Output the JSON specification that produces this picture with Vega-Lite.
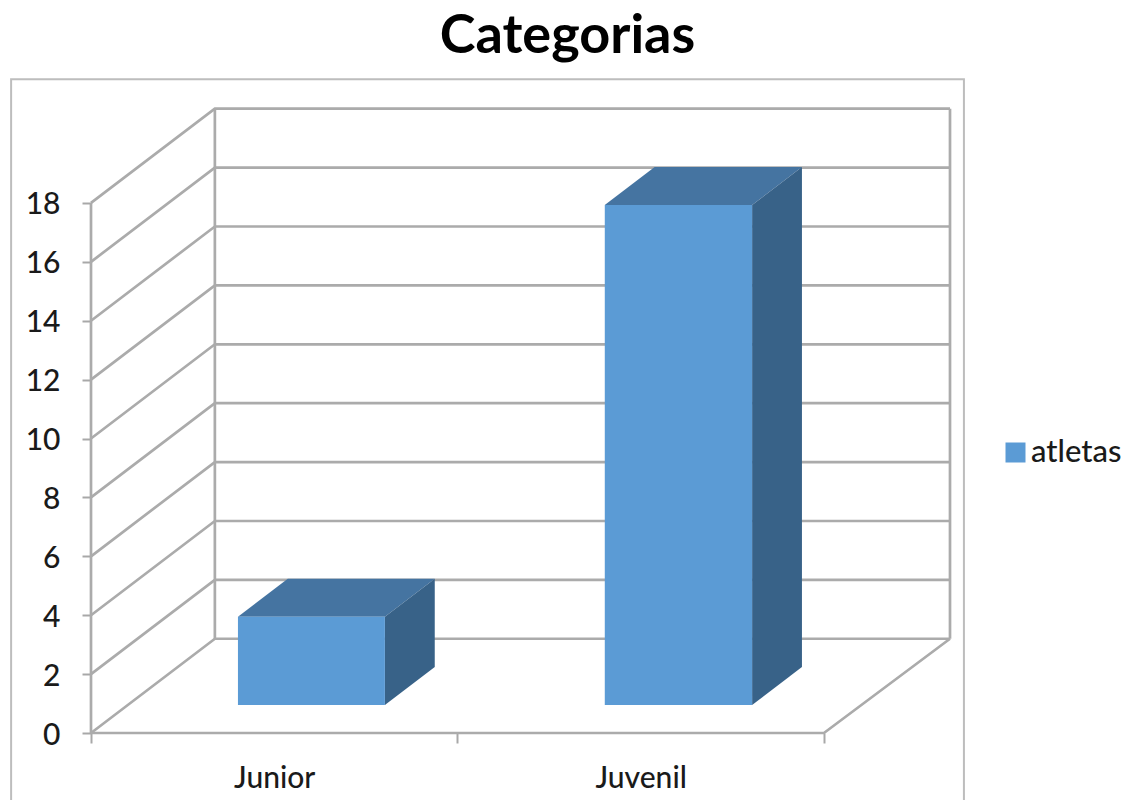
{
"$schema":"https://vega.github.io/schema/vega-lite/v6.json",
"autosize":"none","width":859,"height":624,
"padding":{"left":91,"top":109,"right":191,"bottom":67},
"background":"white",
"config":{"view":{"stroke":null}},
"title":{"text":"Categorias","font":"Lato","fontSize":54,"fontWeight":"bold","color":"#000000","anchor":"middle","dx":47,"offset":11},
"datasets":{
"frame":[{"id":"border","seq":1,"x":-0.218,"y":-2.4},{"id":"border","seq":2,"x":-0.218,"y":22.2},{"id":"border","seq":3,"x":2.382,"y":22.2},{"id":"border","seq":4,"x":2.382,"y":-2.4}],
"wall":[
{"id":"g0","seq":1,"x":0,"y":0},{"id":"g0","seq":2,"x":0.338,"y":3.2},{"id":"g0","seq":3,"x":2.344,"y":3.2},
{"id":"g2","seq":1,"x":0,"y":2},{"id":"g2","seq":2,"x":0.338,"y":5.2},{"id":"g2","seq":3,"x":2.344,"y":5.2},
{"id":"g4","seq":1,"x":0,"y":4},{"id":"g4","seq":2,"x":0.338,"y":7.2},{"id":"g4","seq":3,"x":2.344,"y":7.2},
{"id":"g6","seq":1,"x":0,"y":6},{"id":"g6","seq":2,"x":0.338,"y":9.2},{"id":"g6","seq":3,"x":2.344,"y":9.2},
{"id":"g8","seq":1,"x":0,"y":8},{"id":"g8","seq":2,"x":0.338,"y":11.2},{"id":"g8","seq":3,"x":2.344,"y":11.2},
{"id":"g10","seq":1,"x":0,"y":10},{"id":"g10","seq":2,"x":0.338,"y":13.2},{"id":"g10","seq":3,"x":2.344,"y":13.2},
{"id":"g12","seq":1,"x":0,"y":12},{"id":"g12","seq":2,"x":0.338,"y":15.2},{"id":"g12","seq":3,"x":2.344,"y":15.2},
{"id":"g14","seq":1,"x":0,"y":14},{"id":"g14","seq":2,"x":0.338,"y":17.2},{"id":"g14","seq":3,"x":2.344,"y":17.2},
{"id":"g16","seq":1,"x":0,"y":16},{"id":"g16","seq":2,"x":0.338,"y":19.2},{"id":"g16","seq":3,"x":2.344,"y":19.2},
{"id":"g18","seq":1,"x":0,"y":18},{"id":"g18","seq":2,"x":0.338,"y":21.2},{"id":"g18","seq":3,"x":2.344,"y":21.2},
{"id":"back","seq":1,"x":0.338,"y":3.2},{"id":"back","seq":2,"x":0.338,"y":21.2},
{"id":"right","seq":1,"x":2.344,"y":3.2},{"id":"right","seq":2,"x":2.344,"y":21.2},
{"id":"axisy","seq":1,"x":0,"y":0},{"id":"axisy","seq":2,"x":0,"y":18},
{"id":"floor","seq":1,"x":0,"y":0},{"id":"floor","seq":2,"x":2,"y":0},{"id":"floor","seq":3,"x":2.344,"y":3.2}
],
"top":[
{"cat":"Junior","x":0.401,"y":3.95,"y2":3.95},{"cat":"Junior","x":0.537,"y":3.95,"y2":5.24},{"cat":"Junior","x":0.802,"y":3.95,"y2":5.24},{"cat":"Junior","x":0.938,"y":5.24,"y2":5.24},
{"cat":"Juvenil","x":1.402,"y":17.93,"y2":17.93},{"cat":"Juvenil","x":1.538,"y":17.93,"y2":19.22},{"cat":"Juvenil","x":1.804,"y":17.93,"y2":19.22},{"cat":"Juvenil","x":1.94,"y":19.22,"y2":19.22}
],
"side":[
{"cat":"Junior","x":0.802,"y":0.95,"y2":3.95},{"cat":"Junior","x":0.938,"y":2.24,"y2":5.24},
{"cat":"Juvenil","x":1.804,"y":0.95,"y2":17.93},{"cat":"Juvenil","x":1.94,"y":2.24,"y2":19.22}
],
"front":[
{"cat":"Junior","serie":"atletas","x":0.401,"x2":0.802,"y":0.95,"y2":3.95},
{"cat":"Juvenil","serie":"atletas","x":1.402,"x2":1.804,"y":0.95,"y2":17.93}
]
},
"layer":[
{"data":{"name":"frame"},"mark":{"type":"line","color":"#bdbdbd","strokeWidth":2,"clip":false},
 "encoding":{
  "x":{"field":"x","type":"quantitative","scale":{"domain":[0,2.344],"nice":false,"zero":false},
   "axis":{"title":null,"grid":false,"domain":false,"values":[0,0.5,1,1.5,2],"tickSize":10,"tickColor":"#a8a8a8","tickWidth":2,"tickOpacity":{"condition":{"test":"datum.value==0.5||datum.value==1.5","value":0},"value":1},"labelFont":"Lato","labelFontWeight":500,"labelFontSize":30,"labelColor":"#1a1a1a","labelPadding":20,"labelAngle":0,"labelExpr":"datum.value==0.5?'Junior':(datum.value==1.5?'Juvenil':'')"}},
  "y":{"field":"y","type":"quantitative","scale":{"domain":[0,21.19],"nice":false,"zero":false},
   "axis":{"title":null,"grid":false,"domain":false,"values":[0,2,4,6,8,10,12,14,16,18],"tickSize":9,"tickColor":"#a8a8a8","tickWidth":2,"labelFont":"Lato","labelFontWeight":500,"labelFontSize":30,"labelColor":"#1a1a1a","labelPadding":22,"labelOffset":2}},
  "detail":{"field":"id"},"order":{"field":"seq"}}},
{"data":{"name":"wall"},"mark":{"type":"line","color":"#ababab","strokeWidth":2.7},
 "encoding":{"x":{"field":"x","type":"quantitative"},"y":{"field":"y","type":"quantitative"},"detail":{"field":"id"},"order":{"field":"seq"}}},
{"data":{"name":"top"},"mark":{"type":"area","color":"#4574a1"},
 "encoding":{"x":{"field":"x","type":"quantitative"},"y":{"field":"y","type":"quantitative"},"y2":{"field":"y2"},"detail":{"field":"cat"}}},
{"data":{"name":"side"},"mark":{"type":"area","color":"#386288"},
 "encoding":{"x":{"field":"x","type":"quantitative"},"y":{"field":"y","type":"quantitative"},"y2":{"field":"y2"},"detail":{"field":"cat"}}},
{"data":{"name":"front"},"mark":{"type":"rect"},
 "encoding":{"x":{"field":"x","type":"quantitative"},"x2":{"field":"x2"},"y":{"field":"y","type":"quantitative"},"y2":{"field":"y2"},
  "color":{"field":"serie","type":"nominal","scale":{"range":["#5b9bd5"]},
   "legend":{"title":null,"orient":"none","legendX":909,"legendY":328,"symbolType":"square","symbolSize":400,"symbolStrokeWidth":0,"labelFont":"Lato","labelFontWeight":500,"labelFontSize":31,"labelColor":"#1a1a1a","labelOffset":0}}}}
]
}
